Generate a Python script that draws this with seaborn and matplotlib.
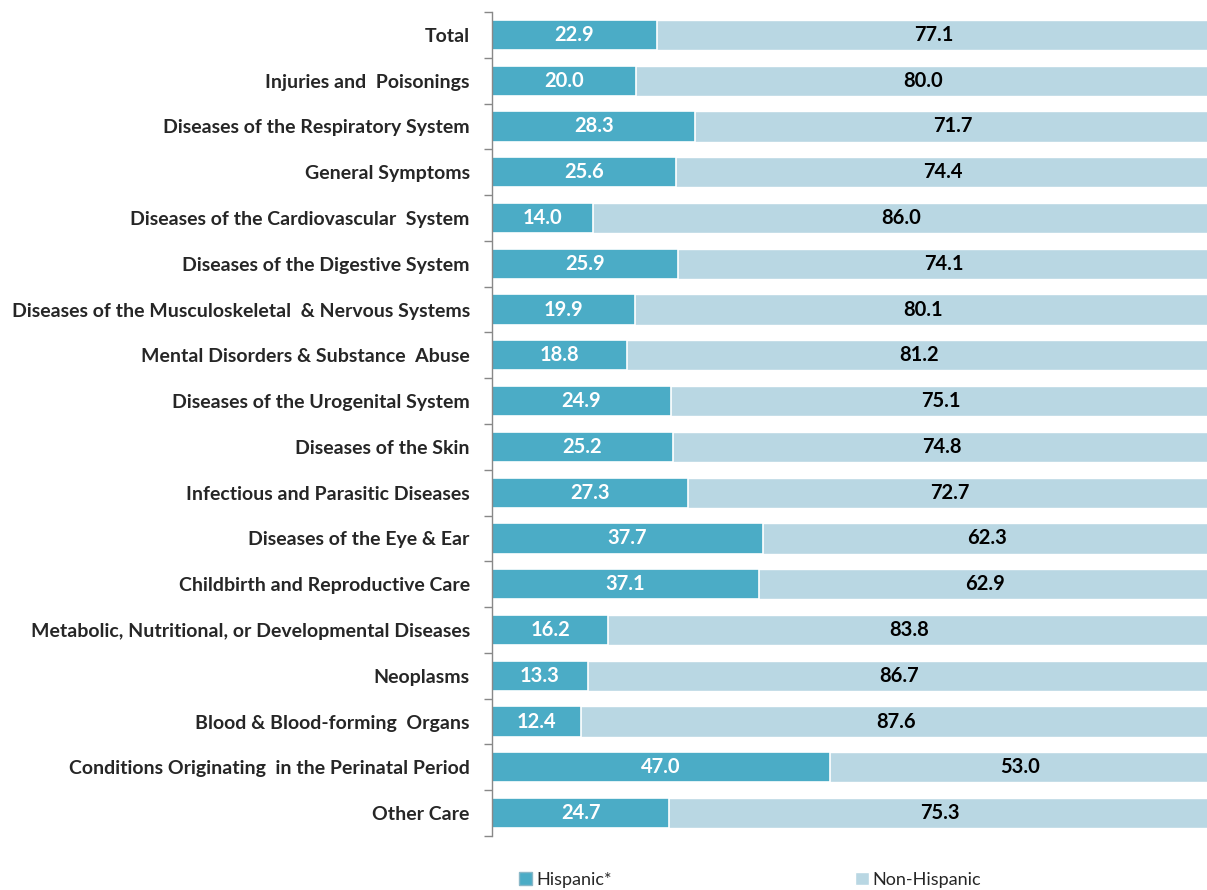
import matplotlib.pyplot as plt
import seaborn as sns
import numpy as np
import pandas as pd

categories = [
    "Total",
    "Injuries and  Poisonings",
    "Diseases of the Respiratory System",
    "General Symptoms",
    "Diseases of the Cardiovascular  System",
    "Diseases of the Digestive System",
    "Diseases of the Musculoskeletal  & Nervous Systems",
    "Mental Disorders & Substance  Abuse",
    "Diseases of the Urogenital System",
    "Diseases of the Skin",
    "Infectious and Parasitic Diseases",
    "Diseases of the Eye & Ear",
    "Childbirth and Reproductive Care",
    "Metabolic, Nutritional, or Developmental Diseases",
    "Neoplasms",
    "Blood & Blood-forming  Organs",
    "Conditions Originating  in the Perinatal Period",
    "Other Care",
]
hispanic = [22.9, 20.0, 28.3, 25.6, 14.0, 25.9, 19.9, 18.8, 24.9, 25.2,
            27.3, 37.7, 37.1, 16.2, 13.3, 12.4, 47.0, 24.7]
non_hispanic = [77.1, 80.0, 71.7, 74.4, 86.0, 74.1, 80.1, 81.2, 75.1, 74.8,
                72.7, 62.3, 62.9, 83.8, 86.7, 87.6, 53.0, 75.3]

df = pd.DataFrame({"category": categories, "Hispanic": hispanic,
                   "NonHispanic": non_hispanic})
df["stack_end"] = df["Hispanic"] + df["NonHispanic"]

dark = "#4BACC6"
light = "#B9D7E3"

sns.set_style("white")
plt.rcParams["font.family"] = ["Lato", "DejaVu Sans"]

fig = plt.figure(figsize=(12.07, 8.9), dpi=100)
ax = fig.add_axes([492 / 1207, 1 - 836 / 890, 1 - 492 / 1207 + 0.003, (836 - 12) / 890])

# light bar = full stack, dark bar drawn on top
sns.barplot(data=df, y="category", x="stack_end", color=light, width=0.66,
            edgecolor="white", linewidth=1, saturation=1, ax=ax)
sns.barplot(data=df, y="category", x="Hispanic", color=dark, width=0.66,
            edgecolor="white", linewidth=1.2, saturation=1, ax=ax)

for i, (h, n) in enumerate(zip(hispanic, non_hispanic)):
    ax.text(h / 2, i, f"{h:.1f}", color="white", fontweight="bold",
            fontsize=14.5, ha="center", va="center")
    ax.text(h + n / 2, i, f"{n:.1f}", color="black", fontweight="bold",
            fontsize=14.5, ha="center", va="center")

ax.set_xlim(0, 100)
ax.set_ylim(len(categories) - 0.5, -0.5)
ax.set_xlabel("")
ax.set_ylabel("")
ax.set_xticks([])
ax.set_yticks(range(len(categories)))
ax.set_yticklabels(categories, fontweight="bold", fontsize=14)
ax.set_yticks(np.arange(-0.5, len(categories), 1), minor=True)
ax.tick_params(axis="y", which="major", length=0, pad=16)
ax.tick_params(axis="y", which="minor", length=6, color="#888888", width=1, left=True)

for s in ["top", "right", "bottom"]:
    ax.spines[s].set_visible(False)
ax.spines["left"].set_color("#888888")
ax.spines["left"].set_linewidth(1)

handles = [plt.Rectangle((0, 0), 1, 1, facecolor=dark, edgecolor="#8ab8c8"),
           plt.Rectangle((0, 0), 1, 1, facecolor=light, edgecolor="white")]
fig.legend(handles, ["Hispanic*", "Non-Hispanic"],
           loc="center", bbox_to_anchor=(750 / 1207, 1 - 880 / 890),
           ncol=2, frameon=False, fontsize=13, columnspacing=13.5,
           handlelength=0.75, handleheight=0.75, handletextpad=0.2)

plt.savefig("out.png", dpi=100)
plt.close()
